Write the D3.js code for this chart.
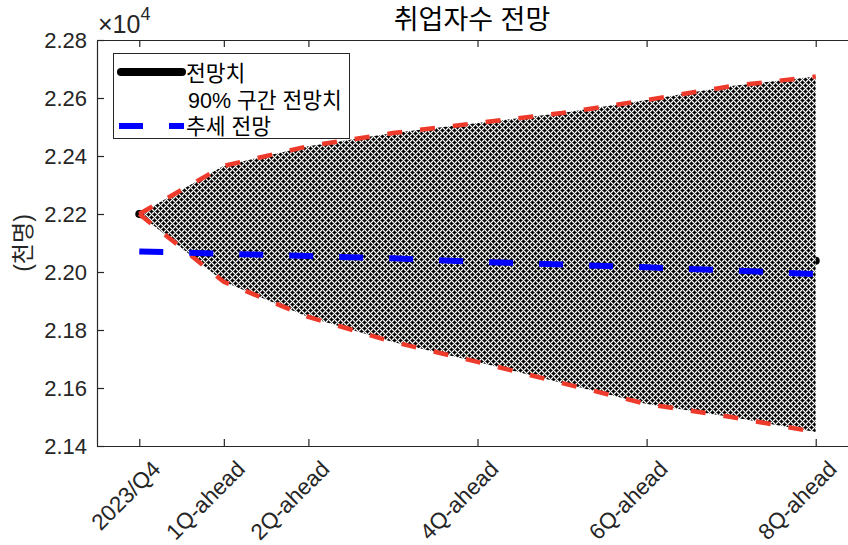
<!DOCTYPE html>
<html>
<head>
<meta charset="utf-8">
<script src="https://cdn.jsdelivr.net/npm/d3@7"></script>
<style>
  body { margin: 0; background: #fff; }
  svg { display: block; font-family: "Liberation Sans", Arial, "Noto Sans CJK KR", sans-serif; }
</style>
</head>
<body>
<script>
// quarters ahead and their tick labels
let steps = [0, 1, 2, 3, 4, 5, 6, 7, 8];
let tickSteps = [0, 1, 2, 4, 6, 8];
let tickLabels = ["2023/Q4", "1Q-ahead", "2Q-ahead", "4Q-ahead", "6Q-ahead", "8Q-ahead"];
let yTicks = [21400, 21600, 21800, 22000, 22200, 22400, 22600, 22800];

// series (thousand persons)
let forecast = [22200, 22166, 22140, 22119, 22100, 22083, 22069, 22055, 22039];
let upper90 = [22200, 22366, 22434, 22479, 22514, 22548, 22593, 22641, 22674];
let lower90 = [22200, 21966, 21845, 21759, 21690, 21617, 21545, 21500, 21448];
let trend = [22071, 22063, 22055, 22047, 22035, 22026, 22016, 22005, 21993];

let legendLabels = ["전망치", "90% 구간 전망치", "추세 전망"];

let width = 848, height = 545;
let axisColor = "#262626";

let svg = d3.select("body").append("svg")
  .attr("width", width)
  .attr("height", height)

let x = d3.scaleLinear().domain([-0.5, 8.5]).range([97, 858]);
let y = d3.scaleLinear().domain([21400, 22800]).range([446, 40]);

// hatch pattern for the band
let defs = svg.append("defs");
let pat = defs.append("pattern")
  .attr("id", "hatch")
  .attr("patternUnits", "userSpaceOnUse")
  .attr("width", 6)
  .attr("height", 6)
pat.append("rect").attr("width", 6).attr("height", 6).attr("fill", "#fff")
for (let i = 0; i < 6; i++) {
  for (let j = 0; j < 6; j++) {
    if ((i + j) % 2 == 0) {
      pat.append("rect").attr("x", i).attr("y", j).attr("width", 1).attr("height", 1)
        .attr("fill", "#6a6a6a").attr("shape-rendering", "crispEdges")
    }
  }
}
[[1, 1], [4, 4]].forEach(function (c) {
  pat.append("rect").attr("x", c[0] - 1).attr("y", c[1]).attr("width", 3).attr("height", 1)
    .attr("fill", "#000").attr("shape-rendering", "crispEdges")
  pat.append("rect").attr("x", c[0]).attr("y", c[1] - 1).attr("width", 1).attr("height", 3)
    .attr("fill", "#000").attr("shape-rendering", "crispEdges")
})

// forecast line (mostly under the band)
let line = d3.line().x(function (d, i) { return x(steps[i]); }).y(function (d) { return y(d); });

svg.append("path")
  .attr("d", line(forecast))
  .attr("fill", "none")
  .attr("stroke", "#000")
  .attr("stroke-width", 8)
  .attr("stroke-linecap", "round")

let area = d3.area()
  .x(function (d, i) { return x(steps[i]); })
  .y0(function (d, i) { return y(lower90[i]); })
  .y1(function (d) { return y(d); })

svg.append("path")
  .attr("d", area(upper90))
  .attr("fill", "url(#hatch)")

;[upper90, lower90].forEach(function (s) {
  svg.append("path")
    .attr("d", line(s))
    .attr("fill", "none")
    .attr("stroke", "#ee3a2a")
    .attr("stroke-width", 4.5)
    .attr("stroke-dasharray", "15,18")
})

svg.append("path")
  .attr("d", line(trend))
  .attr("fill", "none")
  .attr("stroke", "#0000ff")
  .attr("stroke-width", 6)
  .attr("stroke-dasharray", "24,26")

// axes
let xAxis = svg.append("g")
  .attr("transform", "translate(0," + y.range()[0] + ")")
  .call(d3.axisBottom(x).tickValues(tickSteps).tickSizeInner(-7).tickSizeOuter(0).tickFormat(""))
let xTop = svg.append("g")
  .attr("transform", "translate(0," + y.range()[1] + ")")
  .call(d3.axisTop(x).tickValues(tickSteps).tickSizeInner(-7).tickSizeOuter(0).tickFormat(""))
let yAxis = svg.append("g")
  .attr("transform", "translate(" + x.range()[0] + ",0)")
  .call(d3.axisLeft(y).tickValues(yTicks).tickSizeInner(-7).tickSizeOuter(0).tickPadding(10)
    .tickFormat(function (d) { return (d / 1e4).toFixed(2); }))

;[xAxis, xTop, yAxis].forEach(function (g) {
  g.selectAll("path, line").attr("stroke", axisColor).attr("stroke-width", 1.2)
})
yAxis.selectAll("text").attr("font-size", 22).attr("fill", axisColor).attr("font-family", null)

svg.append("g").selectAll("text")
  .data(tickSteps)
  .enter()
  .append("text")
  .attr("transform", function (d) { return "translate(" + (x(d) + 11) + ",459) rotate(-45)"; })
  .attr("text-anchor", "end")
  .attr("dy", "0.72em")
  .attr("font-size", 22.5)
  .attr("fill", axisColor)
  .text(function (d, i) { return tickLabels[i]; })

// exponent label
let expo = svg.append("text")
  .attr("x", 98)
  .attr("y", 33)
  .attr("font-size", 25)
  .attr("fill", axisColor)
expo.append("tspan").text("×10")
expo.append("tspan").attr("dy", -13).attr("font-size", 18).text("4")

// title
svg.append("text")
  .attr("x", 472)
  .attr("y", 29)
  .attr("text-anchor", "middle")
  .attr("font-size", 27)
  .attr("fill", "#000")
  .text("취업자수 전망")

// y label
svg.append("text")
  .attr("transform", "translate(31,243) rotate(-90)")
  .attr("text-anchor", "middle")
  .attr("font-size", 23)
  .attr("fill", axisColor)
  .text("(천명)")

// legend
let legend = svg.append("g")
legend.append("rect")
  .attr("x", 113.5).attr("y", 53.5).attr("width", 236).attr("height", 85)
  .attr("fill", "#fff").attr("stroke", axisColor).attr("stroke-width", 1)
legend.append("line")
  .attr("x1", 121).attr("x2", 182).attr("y1", 72).attr("y2", 72)
  .attr("stroke", "#000").attr("stroke-width", 8).attr("stroke-linecap", "round")
legend.append("line")
  .attr("x1", 119).attr("x2", 184).attr("y1", 126).attr("y2", 126)
  .attr("stroke", "#0000ff").attr("stroke-width", 6).attr("stroke-dasharray", "24,26")
legend.selectAll("text.leg")
  .data(legendLabels)
  .enter()
  .append("text")
  .attr("class", "leg")
  .attr("x", function (d, i) { return i == 1 ? 188 : 186; })
  .attr("y", function (d, i) { return [73, 100, 126][i]; })
  .attr("dy", "0.35em")
  .attr("font-size", 21.5)
  .attr("fill", "#000")
  .text(function (d) { return d; })
</script>
</body>
</html>
